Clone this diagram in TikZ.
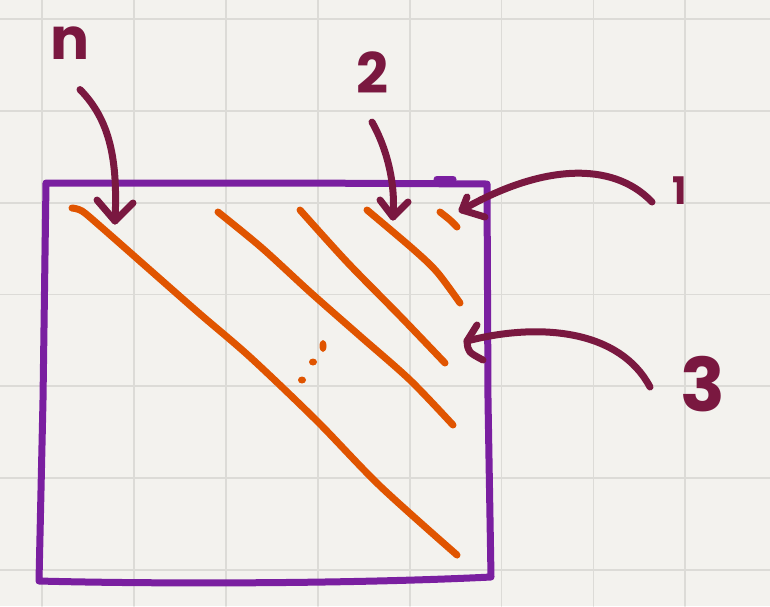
\documentclass[tikz,border=0pt]{standalone}
\usepackage{fontspec}
\setmainfont{Poppins}
\definecolor{bgc}{HTML}{F3F2EE}
\definecolor{gridc}{HTML}{DCDBD7}
\definecolor{boxc}{HTML}{7A1FA0}
\definecolor{diagc}{HTML}{E05400}
\definecolor{arrc}{HTML}{7A1840}
\begin{document}
\begin{tikzpicture}[x=1pt,y=-1pt,line cap=round,line join=round,
  gridline/.style={draw=gridc,line width=1.8pt},
  boxline/.style={draw=boxc,line width=7pt},
  diagline/.style={draw=diagc,line width=7pt},
  pointer/.style={draw=arrc,line width=7pt},
  lab/.style={text=arrc,inner sep=0pt,font=\fontsize{#1}{#1}\selectfont\bfseries}]
\fill[bgc] (0,0) rectangle (770,606);
\useasboundingbox (0,0) rectangle (770,606);
% grid
\foreach \i in {0,...,8} \draw[gridline] ({42+91.9*\i},0) -- ({42+91.9*\i},606);
\foreach \j in {0,...,6} \draw[gridline] (0,{19+91.8*\j}) -- (770,{19+91.8*\j});
% matrix box
\draw[boxline] (46,183) -- (300,183) -- (487,184) -- (488,400) -- (491,577)
  .. controls (350,584) and (150,584) .. (39,581) -- (43,400) -- cycle;
\draw[boxline] (437,179) -- (453,179);
% diagonals
\draw[diagline] plot[smooth] coordinates {(72,208) (82,211) (100,226) (150,270) (200,314) (250,357) (317,421) (380,486) (457,555)};
\draw[diagline] plot[smooth] coordinates {(218,212) (262,248) (310,292) (360,336) (410,380) (453,425)};
\draw[diagline] plot[smooth] coordinates {(300,210) (347,262) (400,316) (445,363)};
\draw[diagline] plot[smooth] coordinates {(367,210) (413,249) (437,272) (460,303)};
\draw[diagline] plot[smooth] coordinates {(440,212) (450,220) (457,227)};
% dots
\fill[diagc] (302,380) ellipse[x radius=4pt,y radius=3.5pt];
\fill[diagc] (313,362) ellipse[x radius=4pt,y radius=3.5pt];
\fill[diagc] (323,346) ellipse[x radius=3.5pt,y radius=6pt];
% labels
\node[lab=58] (ln) at (70,43) {n};
\node[lab=56] (l2) at (372,73) {2};
\node[lab=38] (l1) at (680,191) {1};
\node[lab=74] (l3) at (703,384) {3};
% arrow tips
\coordinate (tn) at (115,221);
\coordinate (t2) at (393,217);
\coordinate (t1) at (462,210);
\coordinate (t3) at (467,341);
% arrows
\draw[pointer] ([xshift=10pt,yshift=-30pt]ln.south) .. controls (110,120) and (118,160) .. (tn);
\draw[pointer] (97,200) -- (tn) -- (133,203);
\draw[pointer] ([yshift=-28pt]l2.south) .. controls (385,145) and (396,180) .. (t2);
\draw[pointer] (380,200) -- (t2) -- (408,202);
\draw[pointer] ([xshift=-28pt,yshift=-11pt]l1.center) .. controls (612,160) and (540,165) .. (t1);
\draw[pointer] (467,197) -- (t1) -- (485,217);
\draw[pointer] ([xshift=-53pt,yshift=-3pt]l3.center) .. controls (620,330) and (540,322) .. (t3);
\draw[pointer] (477,325) -- (t3) .. controls (468,352) .. (483,360);
\end{tikzpicture}
\end{document}
